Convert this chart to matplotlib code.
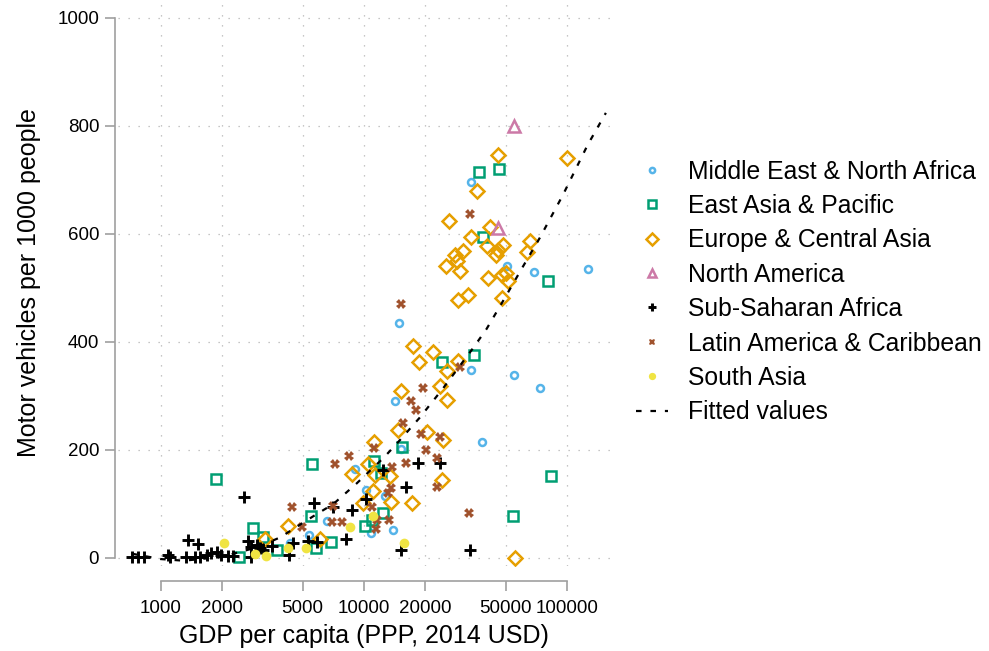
import numpy as np
import matplotlib.pyplot as plt
from matplotlib.lines import Line2D

plt.rcParams['font.family'] = ['Liberation Sans', 'DejaVu Sans']

# GDP per capita (PPP, 2014 USD) and motor vehicles per 1000 people, by region
mena_gdp = [33800, 50600, 69000, 127400, 14900, 33800, 55200, 73700, 14300, 15200,
            38400, 9060, 10240, 12740, 10840, 13900, 6580, 5400, 4330]
mena_veh = [696, 540, 529, 535, 435, 348, 338, 314, 291, 201,
            215, 165, 126, 114, 46, 51, 69, 43, 28]

eap_gdp = [46400, 37000, 38800, 80500, 24300, 34900, 15400, 83800, 54600, 5560,
           1872, 11240, 12170, 12500, 10950, 10140, 5500, 6870, 5820, 3730,
           2860, 3180, 2440]
eap_veh = [720, 715, 594, 512, 362, 376, 206, 152, 77, 174,
           147, 180, 157, 84, 70, 60, 77, 30, 19, 15,
           55, 39, 2]

eca_gdp = [45900, 100000, 36300, 26400, 41900, 33700, 65900, 40400, 48800, 46000,
           44800, 30900, 28200, 28900, 25400, 29800, 63900, 41100, 48200, 50200,
           51500, 29000, 32500, 48200, 17400, 22000, 18800, 29000, 25600, 15300,
           23800, 25600, 14700, 20600, 24700, 11280, 10540, 13490, 11370, 8790,
           24200, 17300, 11140, 13580, 9950, 4230, 6100, 3270, 55600]
eca_veh = [746, 740, 680, 624, 612, 595, 586, 578, 580, 570,
           560, 569, 560, 549, 540, 532, 567, 519, 524, 527,
           513, 478, 486, 481, 393, 381, 363, 365, 346, 310,
           319, 293, 237, 234, 219, 215, 174, 152, 154, 156,
           144, 101, 124, 104, 101, 59, 36, 36, 0]

na_gdp = [55000, 46000]
na_veh = [800, 610]

ssa_gdp = [18600, 23900, 12500, 16110, 10240, 8790, 15300, 33400, 5720, 2570,
           7080, 8150, 5330, 5860, 4470, 4290, 3520, 2700, 2800, 2970,
           3080, 3200, 2790, 1370, 1530, 720, 771, 830, 1090, 1110,
           1332, 1476, 1560, 1687, 1770, 1888, 1982, 2154, 2280]
ssa_veh = [176, 176, 163, 132, 109, 88, 14, 14, 101, 112,
           95, 36, 32, 29, 28, 6, 23, 32, 21, 24,
           18, 15, 1, 33, 26, 2, 2, 2, 6, 1,
           1, 1, 1, 6, 9, 12, 6, 4, 4]

lac_gdp = [33400, 15200, 29800, 19700, 17200, 18200, 15700, 19100, 23800, 20300,
           16200, 22900, 11280, 8490, 7220, 13740, 22900, 13120, 13620, 11010,
           11590, 13330, 11500, 33000, 4450, 7030, 7000, 7800, 4960]
lac_veh = [637, 470, 354, 314, 291, 274, 249, 230, 224, 200,
           176, 185, 203, 189, 174, 168, 132, 121, 129, 95,
           70, 70, 53, 83, 94, 97, 67, 67, 58]

sa_gdp = [11140, 15800, 8570, 5200, 4230, 2920, 3320, 2055]
sa_veh = [77, 28, 58, 18, 18, 7, 4, 28]

# fitted values line
fit_gdp = [720, 1000, 1300, 2000, 3000, 3870, 5630, 7090, 9230, 12500, 14500,
           18900, 24600, 34500, 40300, 48800, 61000, 73800, 95800, 127000, 156000]
fit_veh = [8, -2, -5, 2, 20, 38, 77, 100, 138, 185, 211,
           260, 314, 388, 424, 477, 540, 593, 672, 765, 824]

x_ticks = [1000, 2000, 5000, 10000, 20000, 50000, 100000]
y_ticks = [0, 200, 400, 600, 800, 1000]

fig = plt.figure(figsize=(9.89, 6.51), dpi=100)
ax = fig.add_axes([0.1193, 0.1306, 0.4975, 0.8694])

blue, green, orange, pink, brown, yellow = "#56B4E9", "#009E73", "#E69F00", "#CC79A7", "#A0522D", "#F0E442"

ax.plot(mena_gdp, mena_veh, "o", ms=5, mfc="none", mec=blue, mew=1.8, label="Middle East & North Africa")
ax.plot(eap_gdp, eap_veh, "s", ms=7.5, mfc="none", mec=green, mew=1.8, label="East Asia & Pacific")
ax.plot(eca_gdp, eca_veh, "D", ms=7.5, mfc="none", mec=orange, mew=1.8, label="Europe & Central Asia")
ax.plot(na_gdp, na_veh, "^", ms=8.5, mfc="none", mec=pink, mew=1.8, label="North America")
ax.plot(ssa_gdp, ssa_veh, "+", ms=8, color="black", mew=2.1, label="Sub-Saharan Africa")
ax.plot(lac_gdp, lac_veh, "X", ms=6.5, color=brown, mew=0, label="Latin America & Caribbean")
ax.plot(sa_gdp, sa_veh, "o", ms=7, color=yellow, mew=0, label="South Asia")
ax.plot(fit_gdp, fit_veh, color="black", ls=(0, (2.5, 4)), lw=1.6, label="Fitted values")

ax.set_xscale("log")
ax.set_xlim(616, 163500)
ax.set_ylim(-14.8, 1033)
ax.set_xticks(x_ticks)
ax.set_xticklabels([str(v) for v in x_ticks])
ax.minorticks_off()
ax.set_yticks(y_ticks)
ax.set_yticklabels([str(v) for v in y_ticks])

ax.grid(True, color="#b4b4b4", ls=(0, (1, 7)), lw=0.9)
ax.set_axisbelow(True)

for s in ["top", "right"]:
    ax.spines[s].set_visible(False)
ax.spines["left"].set_bounds(0, 1000)
ax.spines["left"].set_position(("outward", 2))
ax.spines["bottom"].set_bounds(1000, 100000)
ax.spines["bottom"].set_position(("outward", 11))
for s in ["left", "bottom"]:
    ax.spines[s].set_color("#a0a0a0")
    ax.spines[s].set_linewidth(1.2)
ax.tick_params(length=7.5, width=1.2, color="#a0a0a0", labelsize=13.5, pad=4)
ax.tick_params(axis="x", pad=6)

ax.set_xlabel("GDP per capita (PPP, 2014 USD)", fontsize=18, labelpad=5)
ax.set_ylabel("Motor vehicles per 1000 people", fontsize=18, labelpad=12)

fig.legend(loc="upper left", bbox_to_anchor=(0.633, 0.770), frameon=False, fontsize=17.8,
           handlelength=1.3, handletextpad=0.8, labelspacing=0.42, borderaxespad=0,
           markerscale=0.75)

fig.savefig("out.png", dpi=100)
